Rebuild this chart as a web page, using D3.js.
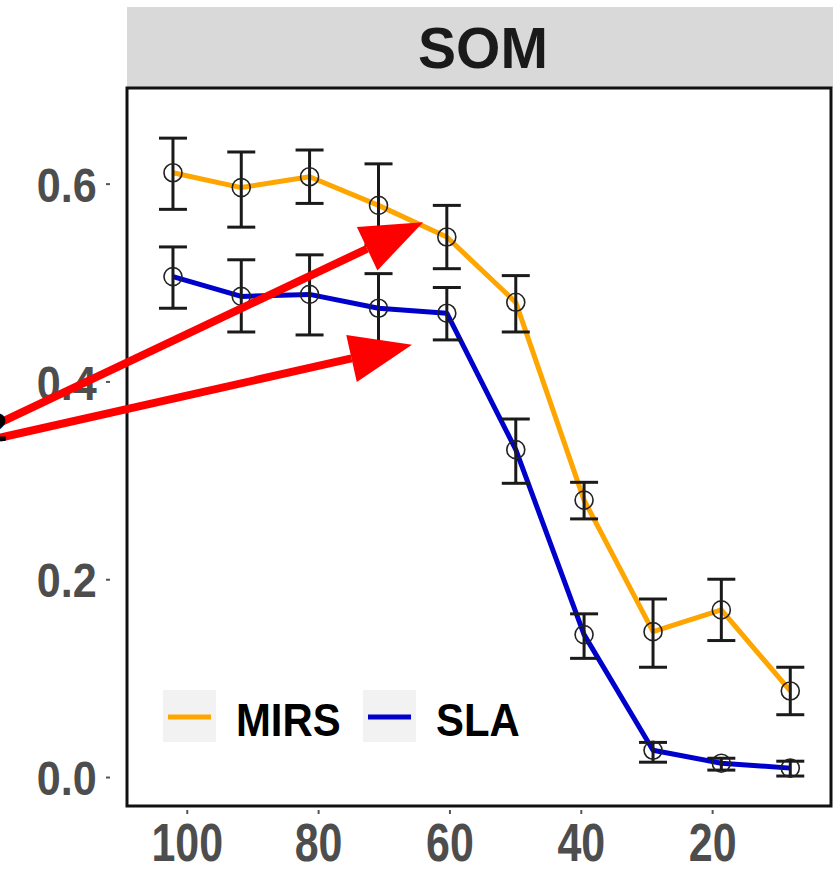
<!DOCTYPE html>
<html>
<head>
<meta charset="utf-8">
<script src="https://cdn.jsdelivr.net/npm/d3@7"></script>
<style>
  body { margin: 0; background: #fff; }
  svg { display: block; }
</style>
</head>
<body>
<svg id="drawing_region"></svg>
<script>
// sample size (x, reversed) and mean +- error for both methods
const sizes = [102.1, 91.7, 81.3, 70.8, 60.4, 49.9, 39.5, 29.0, 18.6, 8.1];

const mirs_mean = [0.611, 0.596, 0.607, 0.578, 0.546, 0.480, 0.280, 0.147, 0.169, 0.087];
const mirs_lo   = [0.574, 0.556, 0.580, 0.538, 0.514, 0.450, 0.261, 0.111, 0.138, 0.063];
const mirs_hi   = [0.646, 0.632, 0.634, 0.620, 0.578, 0.507, 0.298, 0.180, 0.200, 0.111];

const sla_mean = [0.506, 0.486, 0.488, 0.474, 0.469, 0.331, 0.144, 0.027, 0.014, 0.009];
const sla_lo   = [0.474, 0.450, 0.447, 0.432, 0.442, 0.297, 0.120, 0.015, 0.007, 0.001];
const sla_hi   = [0.536, 0.523, 0.528, 0.509, 0.495, 0.362, 0.165, 0.035, 0.019, 0.016];

const series_names = ['MIRS', 'SLA'];
const series_colors = ['#FFA500', '#0000CD'];
const x_ticks = [100, 80, 60, 40, 20];
const y_ticks = [0.0, 0.2, 0.4, 0.6];
const facet_label = 'SOM';

// red annotation arrows, in data units: [x0, y0, x1, y1]
const arrows = [
    [128.5, 0.358, 64.0, 0.561],
    [128.5, 0.343, 65.7, 0.437]
];

const config = {
    width: 833,
    height: 871,
    margin: {top: 88, right: 2, bottom: 65, left: 127},
    strip_h: 81
};

const series = series_names.map((name, i) => ({
    name: name,
    color: series_colors[i],
    values: sizes.map((s, j) => ({
        x: s,
        y: i == 0 ? mirs_mean[j] : sla_mean[j],
        lo: i == 0 ? mirs_lo[j] : sla_lo[j],
        hi: i == 0 ? mirs_hi[j] : sla_hi[j]
    }))
}));

const svg = d3.select('#drawing_region')
    .attr('width', config.width)
    .attr('height', config.height);

const inner_width = config.width - config.margin.left - config.margin.right;
const inner_height = config.height - config.margin.top - config.margin.bottom;

const xscale = d3.scaleLinear()
    .domain([109.1, 1.9])
    .range([0, inner_width]);

const yscale = d3.scaleLinear()
    .domain([-0.0293, 0.6967])
    .range([inner_height, 0]);

const font = "'Liberation Sans', Arial, sans-serif";

// facet strip
svg.append('rect')
    .attr('x', config.margin.left)
    .attr('y', config.margin.top - config.strip_h)
    .attr('width', inner_width + 10)
    .attr('height', config.strip_h)
    .attr('fill', '#d9d9d9');

svg.append('text')
    .attr('x', config.margin.left + inner_width / 2 + 4)
    .attr('y', 68)
    .attr('text-anchor', 'middle')
    .attr('font-family', font)
    .attr('font-weight', 'bold')
    .attr('font-size', 57)
    .attr('fill', '#1a1a1a')
    .text(facet_label);

const chart = svg.append('g')
    .attr('transform', `translate(${config.margin.left}, ${config.margin.top})`);

chart.append('rect')
    .attr('width', inner_width)
    .attr('height', inner_height)
    .attr('fill', '#fff');

// axes
const xaxis = d3.axisBottom(xscale)
    .tickValues(x_ticks)
    .tickSize(4)
    .tickPadding(10)
    .tickSizeOuter(0);

const yaxis = d3.axisLeft(yscale)
    .tickValues(y_ticks)
    .tickFormat(d3.format('.1f'))
    .tickSize(4)
    .tickPadding(11)
    .tickSizeOuter(0);

const xaxis_group = chart.append('g')
    .attr('transform', `translate(0, ${inner_height + 4})`)
    .call(xaxis);

const yaxis_group = chart.append('g')
    .attr('transform', 'translate(-17, 0)')
    .call(yaxis);

[xaxis_group, yaxis_group].forEach(g => {
    g.select('.domain').remove();
    g.selectAll('.tick line').attr('stroke', '#555').attr('stroke-width', 2);
    g.selectAll('.tick text')
        .attr('font-family', font)
        .attr('font-weight', 'bold')
        .attr('fill', '#4d4d4d');
});

xaxis_group.selectAll('.tick text')
    .attr('font-size', 53)
    .attr('dy', '0.70em')
    .attr('transform', 'scale(0.81, 1)');

yaxis_group.selectAll('.tick text')
    .attr('font-size', 49)
    .attr('dy', '0.36em')
    .attr('transform', 'scale(0.88, 1)');

// lines
const line = d3.line()
    .x(d => xscale(d.x))
    .y(d => yscale(d.y));

chart.selectAll('.series-line')
    .data(series)
    .enter()
    .append('path')
    .attr('class', 'series-line')
    .attr('d', d => line(d.values))
    .attr('fill', 'none')
    .attr('stroke', d => d.color)
    .attr('stroke-width', 5)
    .attr('stroke-linejoin', 'round');

// error bars
const cap = 14;
const bars = chart.selectAll('.errbar')
    .data(series.flatMap(s => s.values))
    .enter()
    .append('g')
    .attr('class', 'errbar')
    .attr('stroke', '#1a1a1a')
    .attr('stroke-width', 3);

bars.append('line')
    .attr('x1', d => xscale(d.x)).attr('x2', d => xscale(d.x))
    .attr('y1', d => yscale(d.lo)).attr('y2', d => yscale(d.hi));
bars.append('line')
    .attr('x1', d => xscale(d.x) - cap).attr('x2', d => xscale(d.x) + cap)
    .attr('y1', d => yscale(d.lo)).attr('y2', d => yscale(d.lo));
bars.append('line')
    .attr('x1', d => xscale(d.x) - cap).attr('x2', d => xscale(d.x) + cap)
    .attr('y1', d => yscale(d.hi)).attr('y2', d => yscale(d.hi));

// open circles
chart.selectAll('.pt')
    .data(series.flatMap(s => s.values))
    .enter()
    .append('circle')
    .attr('class', 'pt')
    .attr('cx', d => xscale(d.x))
    .attr('cy', d => yscale(d.y))
    .attr('r', 9)
    .attr('fill', 'none')
    .attr('stroke', '#222')
    .attr('stroke-width', 1.6);

// panel border
chart.append('rect')
    .attr('width', inner_width)
    .attr('height', inner_height)
    .attr('fill', 'none')
    .attr('stroke', '#111')
    .attr('stroke-width', 3);

// legend
const legend = chart.append('g')
    .attr('transform', `translate(36, ${inner_height - 116})`);

const key_x = [0, 200];
const item = legend.selectAll('.key')
    .data(series)
    .enter()
    .append('g')
    .attr('class', 'key')
    .attr('transform', (d, i) => `translate(${key_x[i]}, 0)`);

item.append('rect')
    .attr('width', 53)
    .attr('height', 52)
    .attr('fill', '#f2f2f2');

item.append('line')
    .attr('x1', 5).attr('x2', 48)
    .attr('y1', 27).attr('y2', 27)
    .attr('stroke', d => d.color)
    .attr('stroke-width', 5);

item.append('text')
    .attr('x', 73)
    .attr('y', 46)
    .attr('font-family', font)
    .attr('font-weight', 'bold')
    .attr('font-size', 46)
    .attr('fill', '#000')
    .attr('transform', 'translate(73,0) scale(0.91,1) translate(-73,0)')
    .text(d => d.name);

// red annotation arrows (on top of everything)
const ann = svg.append('g')
    .attr('transform', `translate(${config.margin.left}, ${config.margin.top})`);

// clipped label fragment at left edge
svg.append('text')
    .attr('x', 7)
    .attr('y', 441)
    .attr('text-anchor', 'end')
    .attr('font-family', font)
    .attr('font-weight', 'bold')
    .attr('font-size', 40)
    .attr('fill', '#000')
    .text('2');

arrows.forEach(a => {
    const x0 = xscale(a[0]), y0 = yscale(a[1]);
    const x1 = xscale(a[2]), y1 = yscale(a[3]);
    const ang = Math.atan2(y1 - y0, x1 - x0);
    const head_len = 62, head_w = 24;
    const bx = x1 - head_len * Math.cos(ang);
    const by = y1 - head_len * Math.sin(ang);
    ann.append('line')
        .attr('x1', x0).attr('y1', y0)
        .attr('x2', bx).attr('y2', by)
        .attr('stroke', '#ff0000')
        .attr('stroke-width', 8);
    const px = -Math.sin(ang), py = Math.cos(ang);
    ann.append('path')
        .attr('d', `M${x1},${y1}L${bx + px * head_w},${by + py * head_w}L${bx - px * head_w},${by - py * head_w}Z`)
        .attr('fill', '#ff0000');
});
</script>
</body>
</html>
